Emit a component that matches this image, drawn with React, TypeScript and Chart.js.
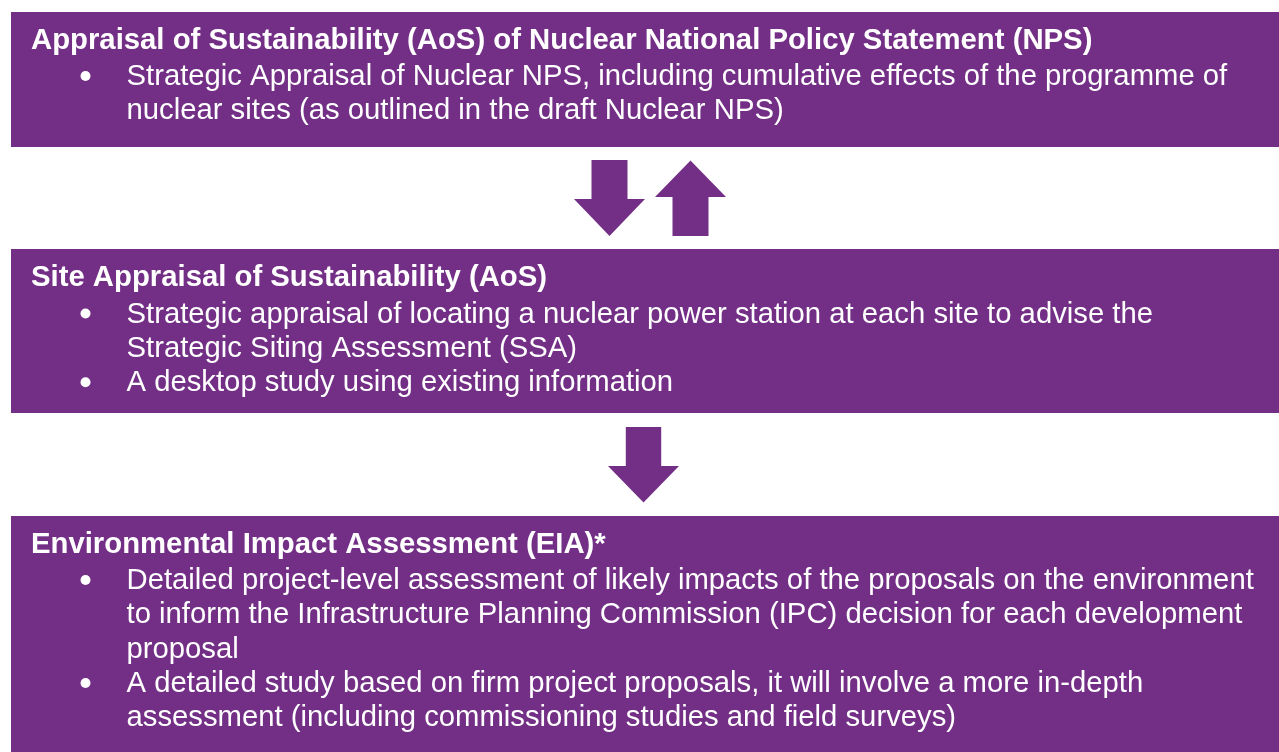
import React, { useEffect, useRef } from "react";
import { Chart, registerables } from "chart.js";

Chart.register(...registerables);

// ---- content ----
const boxTitles = [
  "Appraisal of Sustainability (AoS) of Nuclear National Policy Statement (NPS)",
  "Site Appraisal of Sustainability (AoS)",
  "Environmental Impact Assessment (EIA)*",
];

const box1Bullets = [
  [
    "Strategic Appraisal of Nuclear NPS, including cumulative effects of the programme of",
    "nuclear sites (as outlined in the draft Nuclear NPS)",
  ],
];

const box2Bullets = [
  [
    "Strategic appraisal of locating a nuclear power station at each site to advise the",
    "Strategic Siting Assessment (SSA)",
  ],
  ["A desktop study using existing information"],
];

const box3Bullets = [
  [
    "Detailed project-level assessment of likely impacts of the proposals on the environment",
    "to inform the Infrastructure Planning Commission (IPC) decision for each development",
    "proposal",
  ],
  [
    "A detailed study based on firm project proposals, it will involve a more in-depth",
    "assessment (including commissioning studies and field surveys)",
  ],
];

const allBullets = [box1Bullets, box2Bullets, box3Bullets];

// ---- layout (scale units) ----
const W = 1279;
const H = 752;
const PURPLE = "#732F86";
const boxLayout = [
  { x0: 11, x1: 1279, y0: 12, y1: 147, titleY: 48.5 },
  { x0: 11, x1: 1279, y0: 249, y1: 413, titleY: 286 },
  { x0: 11, x1: 1279, y0: 516, y1: 752, titleY: 552.5 },
];
const arrowLayout = [
  { dir: "down", cx: 609.5, top: 160, bottom: 236, shaft: 18, head: 35.5, headY: 199 },
  { dir: "up", cx: 690.5, top: 160.5, bottom: 236, shaft: 18, head: 35.5, headY: 197 },
  { dir: "down", cx: 643.5, top: 427, bottom: 502.5, shaft: 17.7, head: 35.5, headY: 466 },
];
const TITLE_X = 31;
const BULLET_X = 85.5;
const TEXT_X = 126.5;
const FIRST_GAP = 36.5;
const LINE_H = 34.35;
const FONT_FAMILY = '"Liberation Sans", Arial, Helvetica, sans-serif';
// widths of the first title and first body line in the reference, used to fit the font size
const TITLE_WIDTH = 1062;
const BODY_WIDTH = 1101;

function fitSize(ctx: CanvasRenderingContext2D, weight: string, text: string, target: number) {
  ctx.font = `${weight} 100px ${FONT_FAMILY}`;
  const w = ctx.measureText(text).width;
  return (100 * target) / w;
}

const diagramPlugin = {
  id: "diagram",
  beforeDatasetsDraw(chart: any) {
    const ctx: CanvasRenderingContext2D = chart.ctx;
    const xs = chart.scales.x;
    const ys = chart.scales.y;
    const px = (v: number) => xs.getPixelForValue(v);
    const py = (v: number) => ys.getPixelForValue(v);
    ctx.save();
    ctx.fillStyle = PURPLE;
    boxLayout.forEach((b) => {
      const x0 = px(b.x0), x1 = px(b.x1), y0 = py(b.y0), y1 = py(b.y1);
      ctx.fillRect(x0, Math.min(y0, y1), x1 - x0, Math.abs(y1 - y0));
    });
    arrowLayout.forEach((a) => {
      ctx.beginPath();
      if (a.dir === "down") {
        ctx.moveTo(px(a.cx - a.shaft), py(a.top));
        ctx.lineTo(px(a.cx + a.shaft), py(a.top));
        ctx.lineTo(px(a.cx + a.shaft), py(a.headY));
        ctx.lineTo(px(a.cx + a.head), py(a.headY));
        ctx.lineTo(px(a.cx), py(a.bottom));
        ctx.lineTo(px(a.cx - a.head), py(a.headY));
        ctx.lineTo(px(a.cx - a.shaft), py(a.headY));
      } else {
        ctx.moveTo(px(a.cx - a.shaft), py(a.bottom));
        ctx.lineTo(px(a.cx + a.shaft), py(a.bottom));
        ctx.lineTo(px(a.cx + a.shaft), py(a.headY));
        ctx.lineTo(px(a.cx + a.head), py(a.headY));
        ctx.lineTo(px(a.cx), py(a.top));
        ctx.lineTo(px(a.cx - a.head), py(a.headY));
        ctx.lineTo(px(a.cx - a.shaft), py(a.headY));
      }
      ctx.closePath();
      ctx.fill();
    });
    const titleSize = fitSize(ctx, "bold", boxTitles[0], TITLE_WIDTH);
    const bodySize = fitSize(ctx, "normal", box1Bullets[0][0], BODY_WIDTH);
    ctx.fillStyle = "#ffffff";
    ctx.textBaseline = "alphabetic";
    ctx.textAlign = "left";
    boxLayout.forEach((b, i) => {
      ctx.font = `bold ${titleSize}px ${FONT_FAMILY}`;
      ctx.fillText(boxTitles[i], px(TITLE_X), py(b.titleY));
      ctx.font = `normal ${bodySize}px ${FONT_FAMILY}`;
      let y = b.titleY + FIRST_GAP;
      allBullets[i].forEach((lines) => {
        ctx.beginPath();
        ctx.arc(px(BULLET_X), py(y - 9), 5, 0, Math.PI * 2);
        ctx.fill();
        lines.forEach((line) => {
          ctx.fillText(line, px(TEXT_X), py(y));
          y += LINE_H;
        });
      });
    });
    ctx.restore();
  },
};

export default function App() {
  const ref = useRef<HTMLCanvasElement | null>(null);
  useEffect(() => {
    document.body.style.margin = "0";
    let chart: Chart | null = null;
    let cancelled = false;
    const make = () => {
      if (cancelled || !ref.current) return;
      chart = new Chart(ref.current, {
        type: "scatter",
        data: { datasets: [{ data: [], pointRadius: 0 }] },
        options: {
          animation: false,
          responsive: false,
          maintainAspectRatio: false,
          layout: { padding: 0 },
          plugins: { legend: { display: false }, tooltip: { enabled: false } },
          scales: {
            x: { type: "linear", min: 0, max: W, display: false },
            y: { type: "linear", min: 0, max: H, reverse: true, display: false },
          },
        },
        plugins: [diagramPlugin],
      });
    };
    const fonts: any = (document as any).fonts;
    if (fonts && fonts.load) {
      Promise.all([
        fonts.load(`bold 25px "Liberation Sans"`),
        fonts.load(`25px "Liberation Sans"`),
      ])
        .catch(() => null)
        .then(make);
    } else {
      make();
    }
    return () => {
      cancelled = true;
      if (chart) chart.destroy();
    };
  }, []);
  return (
    <div style={{ position: "absolute", left: 0, top: 0, width: W, height: H, background: "#fff" }}>
      <canvas ref={ref} width={W} height={H} style={{ display: "block" }} />
    </div>
  );
}
